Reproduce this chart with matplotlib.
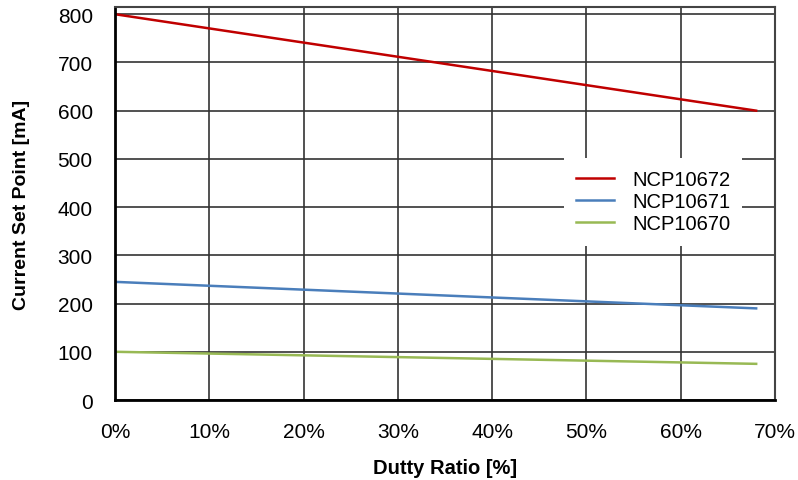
import numpy as np
import matplotlib.pyplot as plt

plt.rcParams['font.family'] = ['Liberation Sans', 'DejaVu Sans']

duty = [0, 68]
ncp10672 = [800, 600]
ncp10671 = [245, 190]
ncp10670 = [100, 75]

x_ticks = [0, 10, 20, 30, 40, 50, 60, 70]
y_ticks = [0, 100, 200, 300, 400, 500, 600, 700, 800]

fig = plt.figure(figsize=(7.98, 4.81), dpi=100)
ax = fig.add_axes([0.1441, 0.1663, 0.8271, 0.8171])

ax.plot(duty, ncp10672, color='#c00000', lw=1.8, label='NCP10672')
ax.plot(duty, ncp10671, color='#4a7ebb', lw=1.8, label='NCP10671')
ax.plot(duty, ncp10670, color='#98b954', lw=1.8, label='NCP10670')

ax.set_xlim(0, 70)
ax.set_ylim(0, 815)
ax.set_xticks(x_ticks)
ax.set_xticklabels([f'{v}%' for v in x_ticks])
ax.set_yticks(y_ticks)
ax.tick_params(length=0, labelsize=15)
ax.tick_params(axis='y', pad=16)
ax.tick_params(axis='x', pad=16)
ax.grid(True, color='#333333', lw=1.2)
ax.set_axisbelow(True)

for side in ['left', 'bottom']:
    ax.spines[side].set_color('black')
    ax.spines[side].set_linewidth(2)
for side in ['top', 'right']:
    ax.spines[side].set_color('#444444')
    ax.spines[side].set_linewidth(1.5)

ax.set_xlabel('Dutty Ratio [%]', fontsize=14.5, fontweight='bold', labelpad=12)
ax.set_ylabel('Current Set Point [mA]', fontsize=14, fontweight='bold', labelpad=20)

leg = ax.legend(loc='center', bbox_to_anchor=(0.815, 0.504), fontsize=14.5,
                frameon=True, fancybox=False, handlelength=1.9, handletextpad=0.9,
                labelspacing=0.15, borderpad=0.6, borderaxespad=0)
leg.get_frame().set_edgecolor('none')
leg.get_frame().set_facecolor('white')
leg.get_frame().set_alpha(1)

fig.savefig('out.png', dpi=100)
